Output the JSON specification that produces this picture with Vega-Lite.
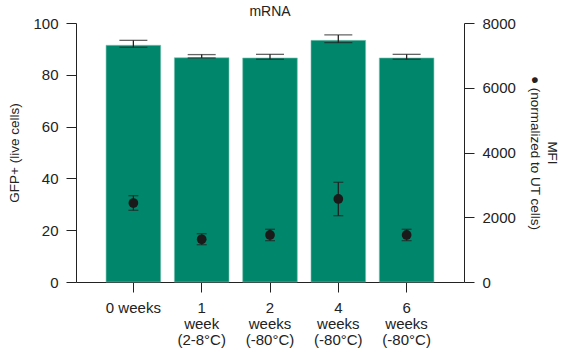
{
  "$schema": "https://vega.github.io/schema/vega-lite/v6.json",
  "width": 388,
  "height": 259,
  "autosize": "none",
  "padding": {"left": 76, "top": 23, "right": 103, "bottom": 70},
  "background": "white",
  "config": {
    "font": "Liberation Sans",
    "view": {"stroke": null},
    "axis": {"labelFont": "Liberation Sans", "titleFont": "Liberation Sans", "labelColor": "#222", "titleColor": "#222", "domainColor": "#222", "tickColor": "#222", "grid": false, "labelFontSize": 15, "titleFontSize": 13.5, "titleFontWeight": "normal", "tickSize": 10, "labelPadding": 8}
  },
  "title": {"text": "mRNA", "fontSize": 14, "fontWeight": "normal", "color": "#222", "font": "Liberation Sans", "offset": -3},
  "data": {
    "values": [
      {"group": "0 weeks", "gfp": 91.4, "gfpLo": 90.6, "gfpHi": 93.3, "mfi": 2440, "mfiLo": 2215, "mfiHi": 2666},
      {"group": "1|week|(2-8°C)", "gfp": 86.6, "gfpLo": 86.5, "gfpHi": 87.8, "mfi": 1319, "mfiLo": 1152, "mfiHi": 1492},
      {"group": "2|weeks|(-80°C)", "gfp": 86.5, "gfpLo": 86.0, "gfpHi": 87.9, "mfi": 1452, "mfiLo": 1276, "mfiHi": 1628},
      {"group": "4|weeks|(-80°C)", "gfp": 93.3, "gfpLo": 92.4, "gfpHi": 95.4, "mfi": 2564, "mfiLo": 2048, "mfiHi": 3080},
      {"group": "6|weeks|(-80°C)", "gfp": 86.5, "gfpLo": 86.0, "gfpHi": 87.9, "mfi": 1452, "mfiLo": 1276, "mfiHi": 1628}
    ]
  },
  "encoding": {
    "x": {
      "field": "group", "type": "nominal", "sort": null,
      "scale": {"paddingInner": 0.2, "paddingOuter": 0.44},
      "axis": {"title": null, "labelAngle": 0, "labelExpr": "split(datum.label, '|')", "labelLineHeight": 16, "labelPadding": 8, "labelBaseline": "top"}
    }
  },
  "layer": [
    {
      "layer": [
        {
          "mark": {"type": "bar", "color": "#00876b", "stroke": "#7fc3b3", "strokeWidth": 0.6},
          "encoding": {
            "y": {"field": "gfp", "type": "quantitative", "title": "GFP+ (live cells)", "scale": {"domain": [0, 100]}, "axis": {"values": [0, 20, 40, 60, 80, 100], "titlePadding": 11}}
          }
        },
        {
          "mark": {"type": "errorbar", "ticks": {"size": 28, "color": "#222"}, "color": "#222", "thickness": 1.3},
          "encoding": {
            "y": {"field": "gfpLo", "type": "quantitative", "title": "GFP+ (live cells)"},
            "y2": {"field": "gfpHi"}
          }
        }
      ]
    },
    {
      "layer": [
        {
          "mark": {"type": "errorbar", "ticks": {"size": 10, "color": "#222"}, "color": "#222", "thickness": 1.3},
          "encoding": {
            "y": {"field": "mfiLo", "type": "quantitative", "title": ["MFI", "● (normalized to UT cells)"], "scale": {"domain": [0, 8000]}, "axis": {"orient": "right", "format": "d", "values": [0, 2000, 4000, 6000, 8000], "titlePadding": 12, "titleLineHeight": 17}},
            "y2": {"field": "mfiHi"}
          }
        },
        {
          "mark": {"type": "point", "filled": true, "color": "#1a1a1a", "opacity": 1, "size": 95},
          "encoding": {
            "y": {"field": "mfi", "type": "quantitative", "title": ["MFI", "● (normalized to UT cells)"]}
          }
        }
      ]
    }
  ],
  "resolve": {"scale": {"y": "independent"}}
}
